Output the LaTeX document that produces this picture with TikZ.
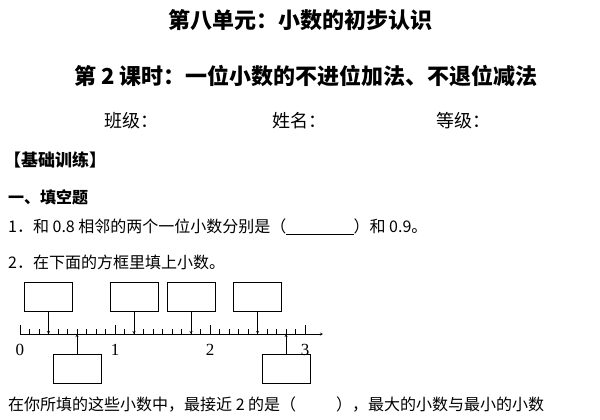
\documentclass[tikz,border=0pt]{standalone}
\usepackage{fontspec}
\setmainfont{Liberation Serif}
\newfontfamily\cjk{Noto Sans CJK SC}
\usetikzlibrary{positioning}
\tikzset{
  txt/.style={anchor=west,inner sep=0pt,font=\cjk\fontsize{16}{18}\selectfont},
  ttl/.style={inner sep=0pt,font=\cjk\bfseries\fontsize{22}{25}\selectfont},
  ansbox/.style={draw,minimum width=48pt,minimum height=29pt,inner sep=0pt},
  num/.style={inner sep=0pt,font=\fontsize{17}{19}\selectfont}
}
\begin{document}
\begin{tikzpicture}[x=1pt,y=-1pt]
\useasboundingbox (0,0) rectangle (600,420);
% header
\node[ttl] (title) at (300,20) {第八单元：小数的初步认识};
\node[ttl] (lesson) at (306,76) {第 2 课时：一位小数的不进位加法、不退位减法};
\node[txt,font=\cjk\fontsize{18}{20}\selectfont] (cls) at (104,121) {班级：};
\node[txt,font=\cjk\fontsize{18}{20}\selectfont] (name) at (272,121) {姓名：};
\node[txt,font=\cjk\fontsize{18}{20}\selectfont] (grade) at (436,121) {等级：};
\node[txt,font=\cjk\bfseries\fontsize{17}{19}\selectfont] (sec) at (4,160) {【基础训练】};
\node[txt,font=\cjk\bfseries\fontsize{16}{18}\selectfont] (part) at (8,197) {一、填空题};
\node[txt] (q1) at (8,227) {1．和 0.8 相邻的两个一位小数分别是（\underline{\hspace{4.2em}}）和 0.9。};
\node[txt] (q2) at (8,262) {2．在下面的方框里填上小数。};
% number line
\draw[-stealth] (20,334) coordinate (o) -- (323,334) coordinate (e);
\foreach \i in {0,...,30} {
  \pgfmathsetmacro\tx{20+9.5*\i}
  \pgfmathtruncatemacro\md{mod(\i,10)}
  \ifnum\md=0 \draw (\tx,334) -- (\tx,325);
  \else \draw (\tx,334) -- (\tx,329);\fi
}
\foreach \v/\lab in {0/0,1/1,2/2,3/3}
  \node[num] (n\lab) at (20+95*\v,350) {\lab};
% boxes above
\foreach \v/\nm in {0.3/a,1.2/b,1.8/c,2.5/d} {
  \node[ansbox] (\nm) at (20+95*\v,297) {};
  \coordinate (p\nm) at (20+95*\v,334);
  \draw[-stealth] (\nm.south) -- (p\nm);
}
% boxes below
\foreach \v/\nm in {0.6/f,2.8/g} {
  \node[ansbox] (\nm) at (20+95*\v,369) {};
  \coordinate (p\nm) at (20+95*\v,334);
  \draw[-stealth] (\nm.north) -- (p\nm);
}
\node[txt] (q3) at (8,405) {在你所填的这些小数中，最接近 2 的是（\hspace{2.5em}），最大的小数与最小的小数};
\end{tikzpicture}
\end{document}
